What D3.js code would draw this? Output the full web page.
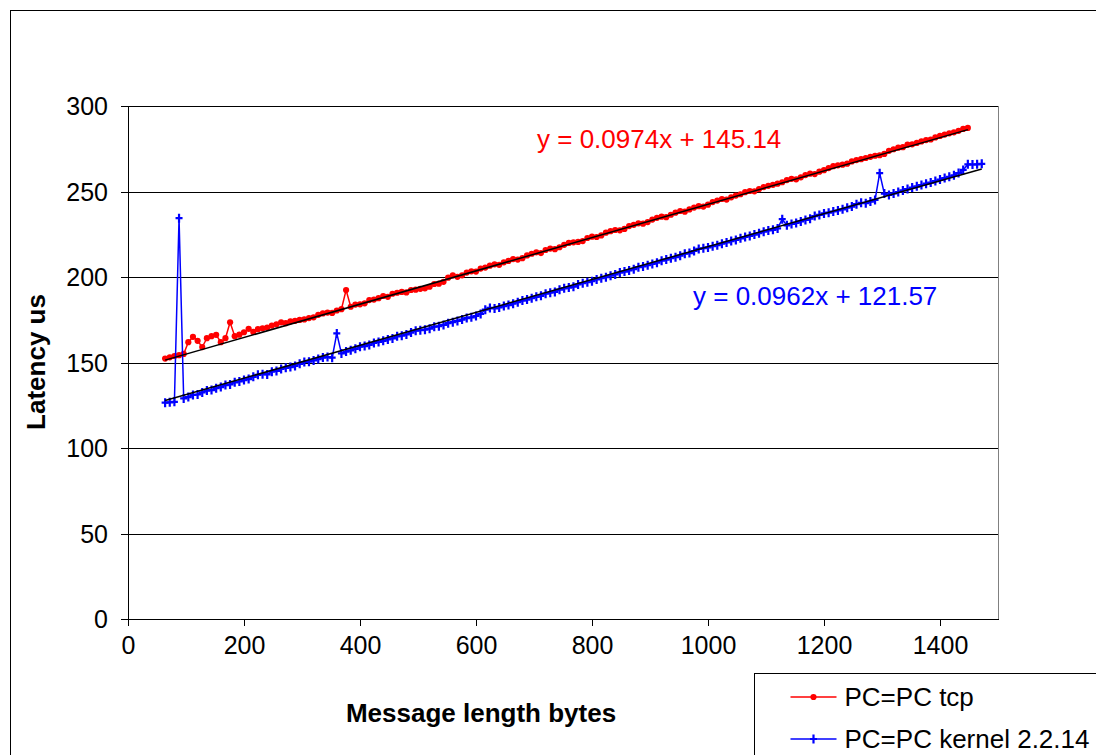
<!DOCTYPE html>
<html>
<head>
<meta charset="utf-8">
<title>Latency vs message length</title>
<script src="https://cdn.jsdelivr.net/npm/d3@7"></script>
<style>
  html, body { margin: 0; padding: 0; background: #fff; }
  svg { display: block; font-family: "Liberation Sans", Arial, sans-serif; }
</style>
</head>
<body>
<div id="chart"></div>
<script>
"use strict";

// message sizes: both runs start at 64 bytes and step by 8
var tcpStart = 64, tcpEnd = 1448, kernelStart = 64, kernelEnd = 1472, msgStep = 8;

// latency (us), one value per message size
var tcpLatency = [
  152.3, 153.0, 153.8, 154.3, 155.0, 161.9, 165.0, 162.7, 159.0, 164.2,
  165.4, 166.2, 161.9, 164.2, 173.5, 165.4, 166.3, 167.7, 169.7, 167.9,
  169.5, 170.0, 170.4, 171.6, 172.3, 173.5, 173.0, 174.1, 174.4, 174.9,
  175.2, 176.0, 176.4, 177.9, 178.7, 179.2, 179.0, 180.4, 181.2, 192.4,
  182.6, 183.9, 184.0, 184.6, 186.5, 186.8, 187.6, 188.9, 188.4, 190.2,
  190.8, 191.3, 191.0, 192.4, 192.6, 193.1, 193.4, 194.3, 195.9, 196.1,
  197.2, 199.6, 200.9, 200.1, 201.0, 202.6, 203.3, 203.2, 204.9, 205.5,
  206.6, 207.4, 207.1, 208.6, 209.4, 210.5, 210.2, 211.0, 212.6, 213.6,
  214.4, 214.0, 215.8, 216.6, 216.3, 217.4, 218.8, 219.9, 220.3, 220.5,
  221.0, 222.8, 223.6, 223.4, 224.3, 225.9, 226.8, 227.5, 227.3, 228.1,
  229.8, 230.5, 231.4, 231.2, 232.1, 233.6, 234.6, 235.3, 235.0, 236.4,
  237.6, 238.6, 238.2, 239.5, 240.6, 241.4, 241.2, 242.3, 243.8, 244.7,
  245.6, 245.3, 246.6, 247.6, 248.4, 249.6, 250.3, 250.1, 251.4, 252.6,
  253.3, 253.9, 254.6, 255.4, 256.7, 257.4, 257.1, 258.3, 259.6, 260.4,
  260.2, 261.6, 262.5, 263.7, 264.8, 265.3, 265.7, 266.3, 267.6, 268.4,
  268.9, 269.6, 270.3, 270.9, 271.2, 272.0, 273.8, 274.7, 275.6, 275.9,
  277.4, 277.6, 278.4, 279.3, 280.1, 280.4, 281.6, 282.5, 283.3, 284.0,
  284.6, 285.5, 286.6, 287.2
];

var kernelLatency = [
  126.5, 126.7, 127.0, 234.4, 129.0, 129.8, 131.0, 131.3, 132.5, 133.6,
  133.9, 135.0, 135.6, 136.8, 137.2, 138.4, 138.9, 139.7, 140.3, 141.6,
  142.8, 143.2, 143.0, 144.6, 145.1, 146.2, 146.9, 147.3, 148.0, 149.2,
  150.3, 150.5, 151.2, 152.0, 152.9, 153.2, 152.8, 167.0, 155.3, 156.4,
  157.1, 158.0, 159.2, 159.6, 160.3, 161.4, 162.0, 162.7, 163.5, 164.1,
  165.3, 165.7, 166.4, 167.5, 168.6, 168.9, 169.2, 169.8, 170.9, 171.2,
  172.0, 173.0, 173.6, 174.3, 175.1, 176.0, 176.4, 177.2, 178.4, 180.9,
  181.9, 181.6, 182.2, 183.0, 183.6, 184.4, 185.3, 186.2, 186.8, 187.6,
  188.4, 189.0, 190.2, 190.8, 191.3, 192.6, 193.4, 193.8, 194.3, 195.6,
  196.4, 197.0, 197.5, 198.6, 199.3, 199.9, 200.8, 201.5, 202.6, 203.2,
  203.8, 204.6, 205.7, 206.2, 206.9, 207.6, 208.4, 209.5, 210.2, 211.0,
  211.6, 212.5, 213.6, 214.0, 215.2, 216.4, 216.8, 217.3, 218.0, 218.6,
  219.5, 220.2, 221.0, 221.7, 222.6, 223.4, 224.0, 224.8, 225.6, 226.5,
  227.2, 227.6, 228.4, 233.8, 230.2, 231.0, 231.6, 232.5, 233.4, 234.1,
  235.6, 236.3, 237.2, 237.6, 238.3, 238.9, 239.6, 240.5, 241.2, 242.6,
  243.4, 243.2, 244.1, 245.1, 260.7, 248.8, 248.0, 248.9, 249.7, 250.6,
  251.4, 252.3, 253.0, 253.8, 254.6, 255.2, 256.1, 257.0, 257.9, 258.6,
  259.5, 260.8, 262.6, 265.9, 265.8, 265.9, 266.2
];

// linear trendline coefficients as printed on the chart
var seriesNames = ['PC=PC tcp', 'PC=PC kernel 2.2.14'];
var trendSlope = [0.0974, 0.0962];
var trendIntercept = [145.14, 121.57];
var trendLabels = ['y = 0.0974x + 145.14', 'y = 0.0962x + 121.57'];

var xTicks = [0, 200, 400, 600, 800, 1000, 1200, 1400];
var yTicks = [0, 50, 100, 150, 200, 250, 300];

var xTitle = 'Message length bytes';
var yTitle = 'Latency us';

var tcpSizes = d3.range(tcpStart, tcpEnd + 1, msgStep);
var kernelSizes = d3.range(kernelStart, kernelEnd + 1, msgStep);

var series = [
  { name: seriesNames[0], color: '#ff0000', marker: 'dot',
    values: tcpSizes.map(function (s, i) { return { x: s, y: tcpLatency[i] }; }) },
  { name: seriesNames[1], color: '#0000ff', marker: 'plus',
    values: kernelSizes.map(function (s, i) { return { x: s, y: kernelLatency[i] }; }) }
];

var outerWidth = 1096, outerHeight = 755;
var plot = { left: 128, right: 998, top: 106, bottom: 619 };

var x = d3.scaleLinear().domain([0, 1500]).range([plot.left, plot.right]);
var y = d3.scaleLinear().domain([0, 300]).range([plot.bottom, plot.top]);

var svg = d3.select('#chart').append('svg')
  .attr('width', outerWidth)
  .attr('height', outerHeight);

svg.append('rect')
  .attr('width', outerWidth).attr('height', outerHeight)
  .attr('fill', '#fff');

// chart area border (runs off the right and bottom edge)
svg.append('rect')
  .attr('x', 10.5).attr('y', 10.5)
  .attr('width', outerWidth + 20).attr('height', outerHeight + 20)
  .attr('fill', 'none').attr('stroke', '#000').attr('stroke-width', 1);

// horizontal gridlines
svg.append('g')
  .attr('class', 'yGrid')
  .attr('transform', 'translate(' + plot.left + ',0)')
  .call(d3.axisLeft(y).tickValues(yTicks.slice(1)).tickSize(-(plot.right - plot.left)).tickFormat(''))
  .call(function (g) { g.select('.domain').remove(); })
  .selectAll('line')
  .attr('stroke', '#000').attr('shape-rendering', 'crispEdges');

// plot area right edge
svg.append('line')
  .attr('x1', plot.right).attr('x2', plot.right)
  .attr('y1', plot.top).attr('y2', plot.bottom)
  .attr('stroke', '#808080').attr('shape-rendering', 'crispEdges');

// y axis
var yAxis = svg.append('g')
  .attr('class', 'yAxis')
  .attr('transform', 'translate(' + plot.left + ',0)')
  .call(d3.axisLeft(y).tickValues(yTicks).tickSize(7).tickPadding(13).tickFormat(d3.format('d')));
yAxis.select('.domain').attr('stroke', '#000').attr('shape-rendering', 'crispEdges');
yAxis.selectAll('line').attr('stroke', '#000').attr('shape-rendering', 'crispEdges');
yAxis.selectAll('text')
  .style('font-size', '25px').attr('fill', '#000')
  .attr('dy', '0.35em');

// x axis
var xAxis = svg.append('g')
  .attr('class', 'xAxis')
  .attr('transform', 'translate(0,' + plot.bottom + ')')
  .call(d3.axisBottom(x).tickValues(xTicks).tickSize(7).tickSizeOuter(0).tickPadding(10).tickFormat(d3.format('d')));
xAxis.select('.domain').attr('stroke', '#000').attr('shape-rendering', 'crispEdges');
xAxis.selectAll('line').attr('stroke', '#000').attr('shape-rendering', 'crispEdges');
xAxis.selectAll('text')
  .style('font-size', '25px').attr('fill', '#000');

// axis titles
svg.append('text')
  .attr('x', 481).attr('y', 722)
  .attr('text-anchor', 'middle')
  .style('font-size', '26px').style('font-weight', 'bold')
  .text(xTitle);

svg.append('text')
  .attr('transform', 'translate(45,362) rotate(-90)')
  .attr('text-anchor', 'middle')
  .style('font-size', '26px').style('font-weight', 'bold')
  .text(yTitle);

var line = d3.line()
  .x(function (d) { return x(d.x); })
  .y(function (d) { return y(d.y); });

function drawMarkers (sel, s) {
  if (s.marker === 'dot') {
    sel.append('circle')
      .attr('r', 3.1)
      .attr('fill', s.color);
  } else {
    sel.append('path')
      .attr('d', 'M0,-4.5V4.5M-3.5,0H3.5')
      .attr('stroke', s.color).attr('stroke-width', 2.2).attr('fill', 'none');
  }
}

series.forEach(function (s) {
  var g = svg.append('g').attr('class', 'series');
  g.append('path')
    .attr('d', line(s.values))
    .attr('fill', 'none').attr('stroke', s.color).attr('stroke-width', 1.5);
  g.selectAll('g.pt')
    .data(s.values)
    .enter()
    .append('g')
    .attr('class', 'pt')
    .attr('transform', function (d) { return 'translate(' + x(d.x) + ',' + y(d.y) + ')'; })
    .each(function () { drawMarkers(d3.select(this), s); });
});

// trendlines over the data
series.forEach(function (s, i) {
  var ext = d3.extent(s.values, function (d) { return d.x; });
  var pts = ext.map(function (v) { return { x: v, y: trendSlope[i] * v + trendIntercept[i] }; });
  svg.append('path')
    .attr('d', line(pts))
    .attr('fill', 'none').attr('stroke', '#000').attr('stroke-width', 1.5);
});

// trendline equations
var labelPos = [{ x: 537, y: 148 }, { x: 693, y: 305 }];
series.forEach(function (s, i) {
  svg.append('text')
    .attr('x', labelPos[i].x).attr('y', labelPos[i].y)
    .attr('fill', s.color)
    .style('font-size', '26px')
    .text(trendLabels[i]);
});

// legend
var legend = svg.append('g').attr('transform', 'translate(754.5,673.5)');
legend.append('rect')
  .attr('width', 400).attr('height', 200)
  .attr('fill', '#fff').attr('stroke', '#000').attr('stroke-width', 1);
series.forEach(function (s, i) {
  var row = legend.append('g').attr('transform', 'translate(0,' + (23.5 + i * 42) + ')');
  row.append('line')
    .attr('x1', 36).attr('x2', 82)
    .attr('stroke', s.color).attr('stroke-width', 1.5);
  var m = row.append('g').attr('transform', 'translate(59,0)');
  drawMarkers(m, s);
  row.append('text')
    .attr('x', 90).attr('y', 9)
    .style('font-size', '26px')
    .text(s.name);
});
</script>
</body>
</html>
